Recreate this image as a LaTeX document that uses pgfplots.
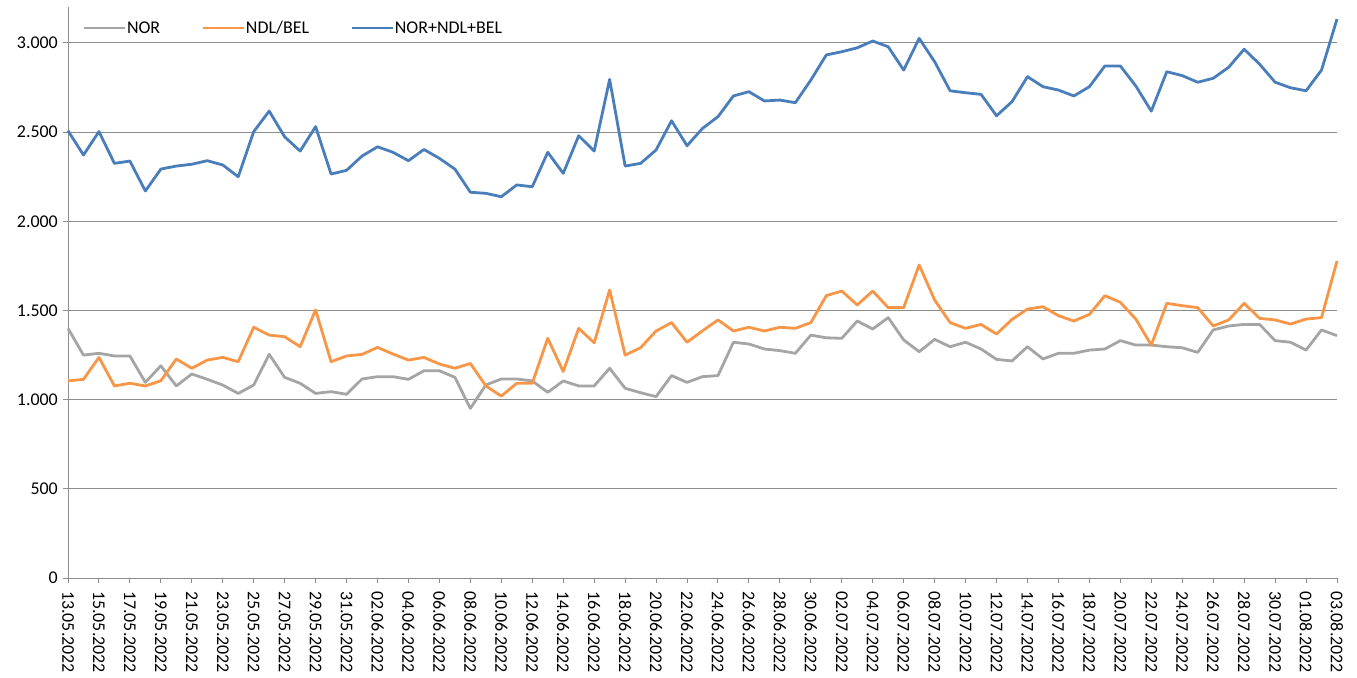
\documentclass[border=0pt]{standalone}
\usepackage{pgfplots}
\pgfplotsset{compat=1.18}
\usepackage{pgfplotstable}
\usepackage{fontspec}
\setmainfont{Carlito}
\definecolor{cnor}{HTML}{A5A5A5}
\definecolor{cndl}{HTML}{F79646}
\definecolor{ctot}{HTML}{4A7EBB}
\definecolor{cgrid}{HTML}{8C8C8C}
\pgfplotstableread{
nor ndl tot
1400 1105 2508
1250 1114 2372
1260 1237 2503
1245 1077 2325
1245 1092 2338
1097 1077 2170
1190 1106 2293
1077 1228 2310
1144 1176 2320
1114 1222 2340
1082 1237 2316
1035 1213 2250
1082 1406 2503
1254 1362 2618
1125 1353 2474
1092 1297 2394
1035 1503 2531
1045 1213 2265
1030 1245 2286
1116 1254 2366
1129 1293 2418
1129 1256 2387
1114 1222 2340
1162 1237 2403
1162 1200 2353
1125 1176 2293
951 1203 2163
1082 1077 2157
1116 1020 2138
1116 1092 2204
1105 1092 2194
1041 1344 2387
1105 1158 2269
1077 1400 2480
1077 1319 2394
1176 1615 2796
1064 1250 2310
1039 1291 2325
1017 1385 2400
1135 1432 2564
1097 1322 2424
1129 1386 2521
1135 1447 2587
1322 1385 2703
1312 1406 2727
1284 1385 2675
1275 1406 2680
1260 1400 2665
1362 1432 2792
1347 1583 2933
1344 1609 2951
1441 1531 2973
1396 1609 3011
1460 1516 2979
1335 1516 2848
1269 1755 3026
1338 1559 2895
1297 1432 2732
1322 1400 2721
1284 1422 2712
1226 1368 2592
1217 1450 2671
1297 1508 2811
1228 1521 2755
1260 1471 2736
1260 1441 2703
1278 1478 2755
1284 1583 2871
1331 1546 2871
1306 1452 2759
1306 1306 2618
1297 1540 2839
1291 1527 2817
1265 1516 2780
1391 1413 2802
1413 1447 2864
1422 1540 2965
1422 1456 2881
1331 1447 2780
1322 1424 2749
1278 1452 2732
1391 1460 2848
1359 1777 3134
}\chartdata
\begin{document}
\begin{tikzpicture}
\path[use as bounding box] (0,0) rectangle (1357bp,678bp);
\begin{axis}[
  at={(68bp,100bp)}, anchor=south west,
  scale only axis, width=1269bp, height=570.67bp,
  xmin=0, xmax=82, ymin=0, ymax=3200,
  clip=false,
  axis x line*=bottom, axis y line*=left,
  axis line style={draw=cgrid, line width=1bp, -},
  tick style={draw=cgrid, line width=1bp},
  tick align=outside,
  major tick length=5bp,
  ytick={0,500,...,3000},
  xtick={0,2,...,82},
  xticklabels={13.05.2022,15.05.2022,17.05.2022,19.05.2022,21.05.2022,23.05.2022,25.05.2022,27.05.2022,29.05.2022,31.05.2022,02.06.2022,04.06.2022,06.06.2022,08.06.2022,10.06.2022,12.06.2022,14.06.2022,16.06.2022,18.06.2022,20.06.2022,22.06.2022,24.06.2022,26.06.2022,28.06.2022,30.06.2022,02.07.2022,04.07.2022,06.07.2022,08.07.2022,10.07.2022,12.07.2022,14.07.2022,16.07.2022,18.07.2022,20.07.2022,22.07.2022,24.07.2022,26.07.2022,28.07.2022,30.07.2022,01.08.2022,03.08.2022},
  xticklabel style={yshift=-8bp, rotate=-90, anchor=west, font=\fontsize{18}{20}\selectfont, inner sep=0pt},
  yticklabel style={anchor=east, font=\fontsize{18}{20}\selectfont, inner sep=0pt, xshift=-5bp},
  /pgf/number format/.cd, 1000 sep={.}, assume math mode=true,
  /pgfplots/.cd,
  ymajorgrids, grid style={draw=cgrid, line width=1bp},
  legend columns=3,
  legend style={draw=none, fill=none, at={(0.0134,0.9638)}, anchor=west, xshift=-3bp,
    font=\fontsize{18}{20}\selectfont, inner sep=0pt,
    nodes={inner xsep=1bp, inner ysep=0pt},
    /tikz/every even column/.append style={column sep=40bp}},
  legend image code/.code={\draw[#1] (0bp,0bp) -- (41bp,0bp);},
  every axis plot/.append style={line width=2.8bp, line join=round},
]
\addplot[cnor, mark=none] table[x expr=\coordindex, y=nor] {\chartdata};
\addplot[cndl, mark=none] table[x expr=\coordindex, y=ndl] {\chartdata};
\addplot[ctot, mark=none] table[x expr=\coordindex, y=tot] {\chartdata};
\legend{NOR, NDL/BEL, NOR+NDL+BEL}
\end{axis}
\end{tikzpicture}
\end{document}
